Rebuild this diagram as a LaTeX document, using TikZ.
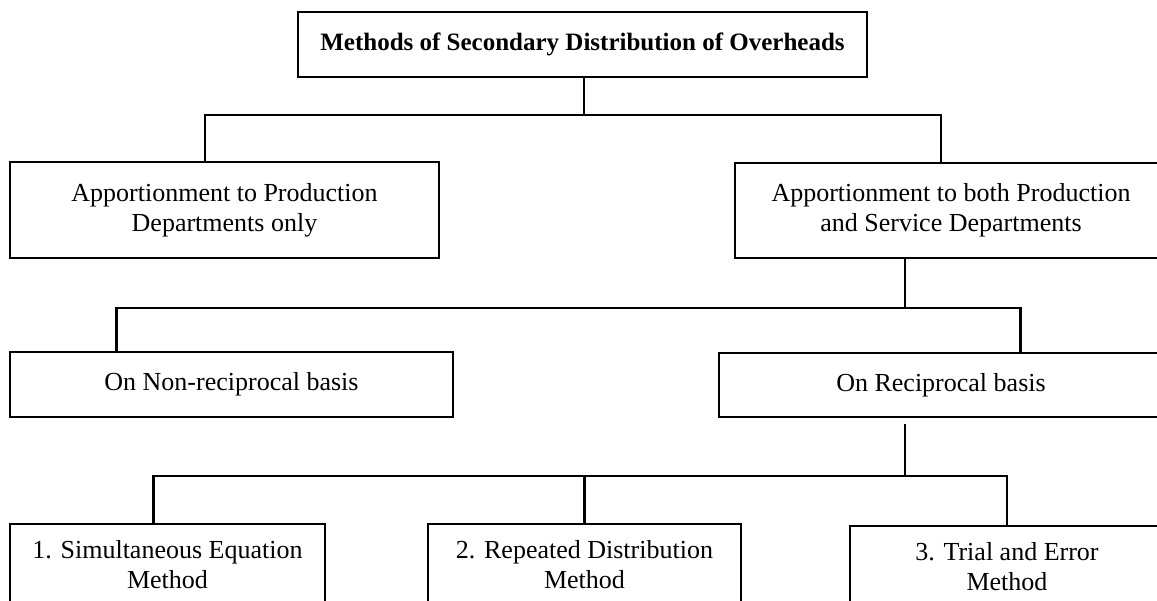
\documentclass[tikz,border=0pt]{standalone}
\usepackage{fontspec}
\setmainfont{Liberation Serif}
\begin{document}
\begin{tikzpicture}[x=1pt,y=-1pt,
  box/.style={draw,line width=2.4pt,inner sep=0pt,align=center,
    font=\fontsize{26}{30}\selectfont},
  titlebox/.style={box,font=\fontsize{25}{30}\selectfont\bfseries},
  conn/.style={line width=2.2pt}]
\useasboundingbox (0,0) rectangle (1157,601);
\begin{scope}
\clip (0,0) rectangle (1157,601);
\node[titlebox,minimum width=569pt,minimum height=65pt] (title) at (582.5,44.5)
  {Methods of Secondary Distribution of Overheads};
\node[box,minimum width=429pt,minimum height=96pt] (b2) at (224.5,210)
  {Apportionment to Production\\Departments only};
\node[box,minimum width=432pt,minimum height=95pt] (b3) at (951,210.5)
  {Apportionment to both Production\\and Service Departments};
\node[box,minimum width=443pt,minimum height=65pt] (b4) at (231.5,384.5)
  {On Non-reciprocal basis};
\node[box,minimum width=444pt,minimum height=64pt] (b5) at (941,385)
  {On Reciprocal basis};
\node[box,minimum width=315pt,minimum height=82pt] (b6) at (167.5,565)
  {1. Simultaneous Equation\\Method};
\node[box,minimum width=313pt,minimum height=82pt] (b7) at (584.5,565)
  {2. Repeated Distribution\\Method};
\node[box,minimum width=314pt,minimum height=82pt] (b8) at (1007,567)
  {3. Trial and Error\\Method};

\coordinate (j1) at (584,115);
\coordinate (l1) at (205,115);
\coordinate (r1) at (941,115);
\coordinate (j2) at (905,308);
\coordinate (l2) at (116.5,308);
\coordinate (r2) at (1020.5,308);
\coordinate (j3) at (905,476);
\coordinate (l3) at (153.5,476);
\coordinate (m3) at (584.5,476);
\coordinate (r3) at (1007,476);

\draw[conn] (title.south -| j1) -- (j1);
\draw[conn] (l1 |- b2.north) -- (l1) -- (r1) -- (r1 |- b3.north);
\draw[conn] (b3.south -| j2) -- (j2);
\draw[conn] (l2 |- b4.north) -- (l2) -- (r2) -- (r2 |- b5.north);
\draw[conn] ([yshift=-6pt]b5.south -| j3) -- (j3);
\draw[conn] (l3 |- b6.north) -- (l3) -- (r3) -- (r3 |- b8.north);
\draw[conn] (m3) -- (m3 |- b7.north);
\end{scope}
\end{tikzpicture}
\end{document}
